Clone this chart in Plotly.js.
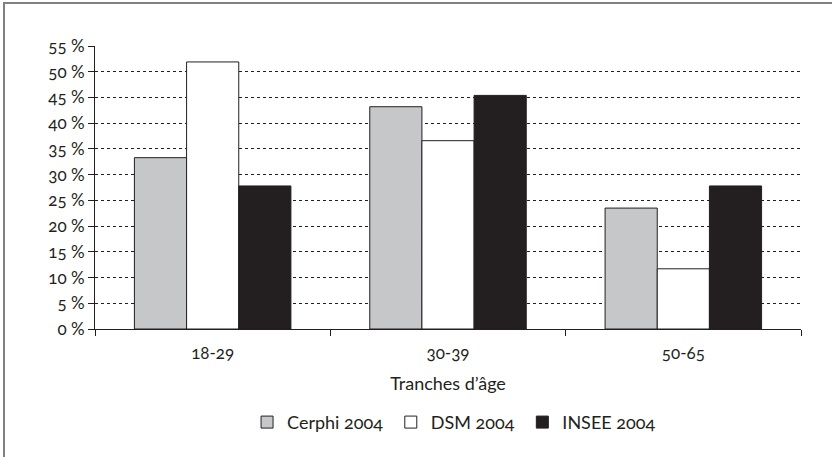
<!DOCTYPE html>
<html>
<head>
<meta charset="utf-8">
<script src="https://cdn.plot.ly/plotly-3.0.1.min.js"></script>
<style>
  html, body { margin: 0; padding: 0; background: #fff; }
  #wrap { position: relative; width: 832px; height: 457px; }
  #chart { width: 832px; height: 457px; }
  #bl { position: absolute; left: 3px; top: 2px; width: 2px; height: 455px; background: #808080; }
  #bt { position: absolute; left: 3px; top: 2px; width: 829px; height: 2px; background: #808080; }
  #chart svg text { font-feature-settings: "onum" 1; font-variant-numeric: oldstyle-nums; }
</style>
</head>
<body>
<div id="wrap">
  <div id="chart"></div>
  <div id="bl"></div>
  <div id="bt"></div>
</div>
<script>
const categories = ["18-29", "30-39", "50-65"];
const seriesNames = ["Cerphi 2004", "DSM 2004", "INSEE 2004"];
const cerphi = [33.3, 43.2, 23.5];
const dsm = [51.9, 36.6, 11.7];
const insee = [27.8, 45.4, 27.8];
const yTickVals = [0, 5, 10, 15, 20, 25, 30, 35, 40, 45, 50, 55];
const yTickText = ["0 %", "5 %", "10 %", "15 %", "20 %", "25 %", "30 %", "35 %", "40 %", "45 %", "50 %", "55 %"];

const fontFam = "Lato, 'Open Sans', 'DejaVu Sans', sans-serif";
const txtCol = "#231f20";
const colors = ["#c6c7c9", "#ffffff", "#231f20"];
const values = [cerphi, dsm, insee];

const traces = values.map((v, i) => ({
  type: "bar",
  name: seriesNames[i],
  x: categories,
  y: v,
  marker: { color: colors[i], line: { color: "#231f20", width: 1 } },
  hoverinfo: "skip"
}));

const layout = {
  width: 832,
  height: 457,
  margin: { l: 95, r: 31, t: 46, b: 128 },
  paper_bgcolor: "#ffffff",
  plot_bgcolor: "#ffffff",
  font: { family: fontFam, color: txtCol, size: 18 },
  barmode: "group",
  bargap: 0.335,
  bargroupgap: 0,
  showlegend: true,
  legend: {
    orientation: "h",
    x: 0.51, xanchor: "center",
    y: -0.33, yanchor: "middle",
    font: { size: 18, color: txtCol },
    itemwidth: 30,
    traceorder: "normal"
  },
  xaxis: {
    type: "category",
    showgrid: false,
    showline: true,
    linecolor: "#231f20",
    linewidth: 1,
    ticks: "outside",
    tickson: "boundaries",
    ticklen: 6,
    tickcolor: "#231f20",
    ticklabelstandoff: 9,
    tickfont: { size: 17, color: txtCol },
    title: { text: "Tranches d\u2019âge", font: { size: 18, color: txtCol }, standoff: 14 },
    zeroline: false
  },
  yaxis: {
    range: [0, 55],
    tickvals: yTickVals,
    ticktext: yTickText,
    showline: true,
    linecolor: "#231f20",
    linewidth: 1,
    ticks: "outside",
    ticklen: 6,
    tickcolor: "#231f20",
    tickfont: { size: 17, color: txtCol },
    showgrid: true,
    gridcolor: "#231f20",
    gridwidth: 1,
    griddash: "dot",
    zeroline: false
  }
};

Plotly.newPlot("chart", traces, layout, { displayModeBar: false, staticPlot: true });
</script>
</body>
</html>
